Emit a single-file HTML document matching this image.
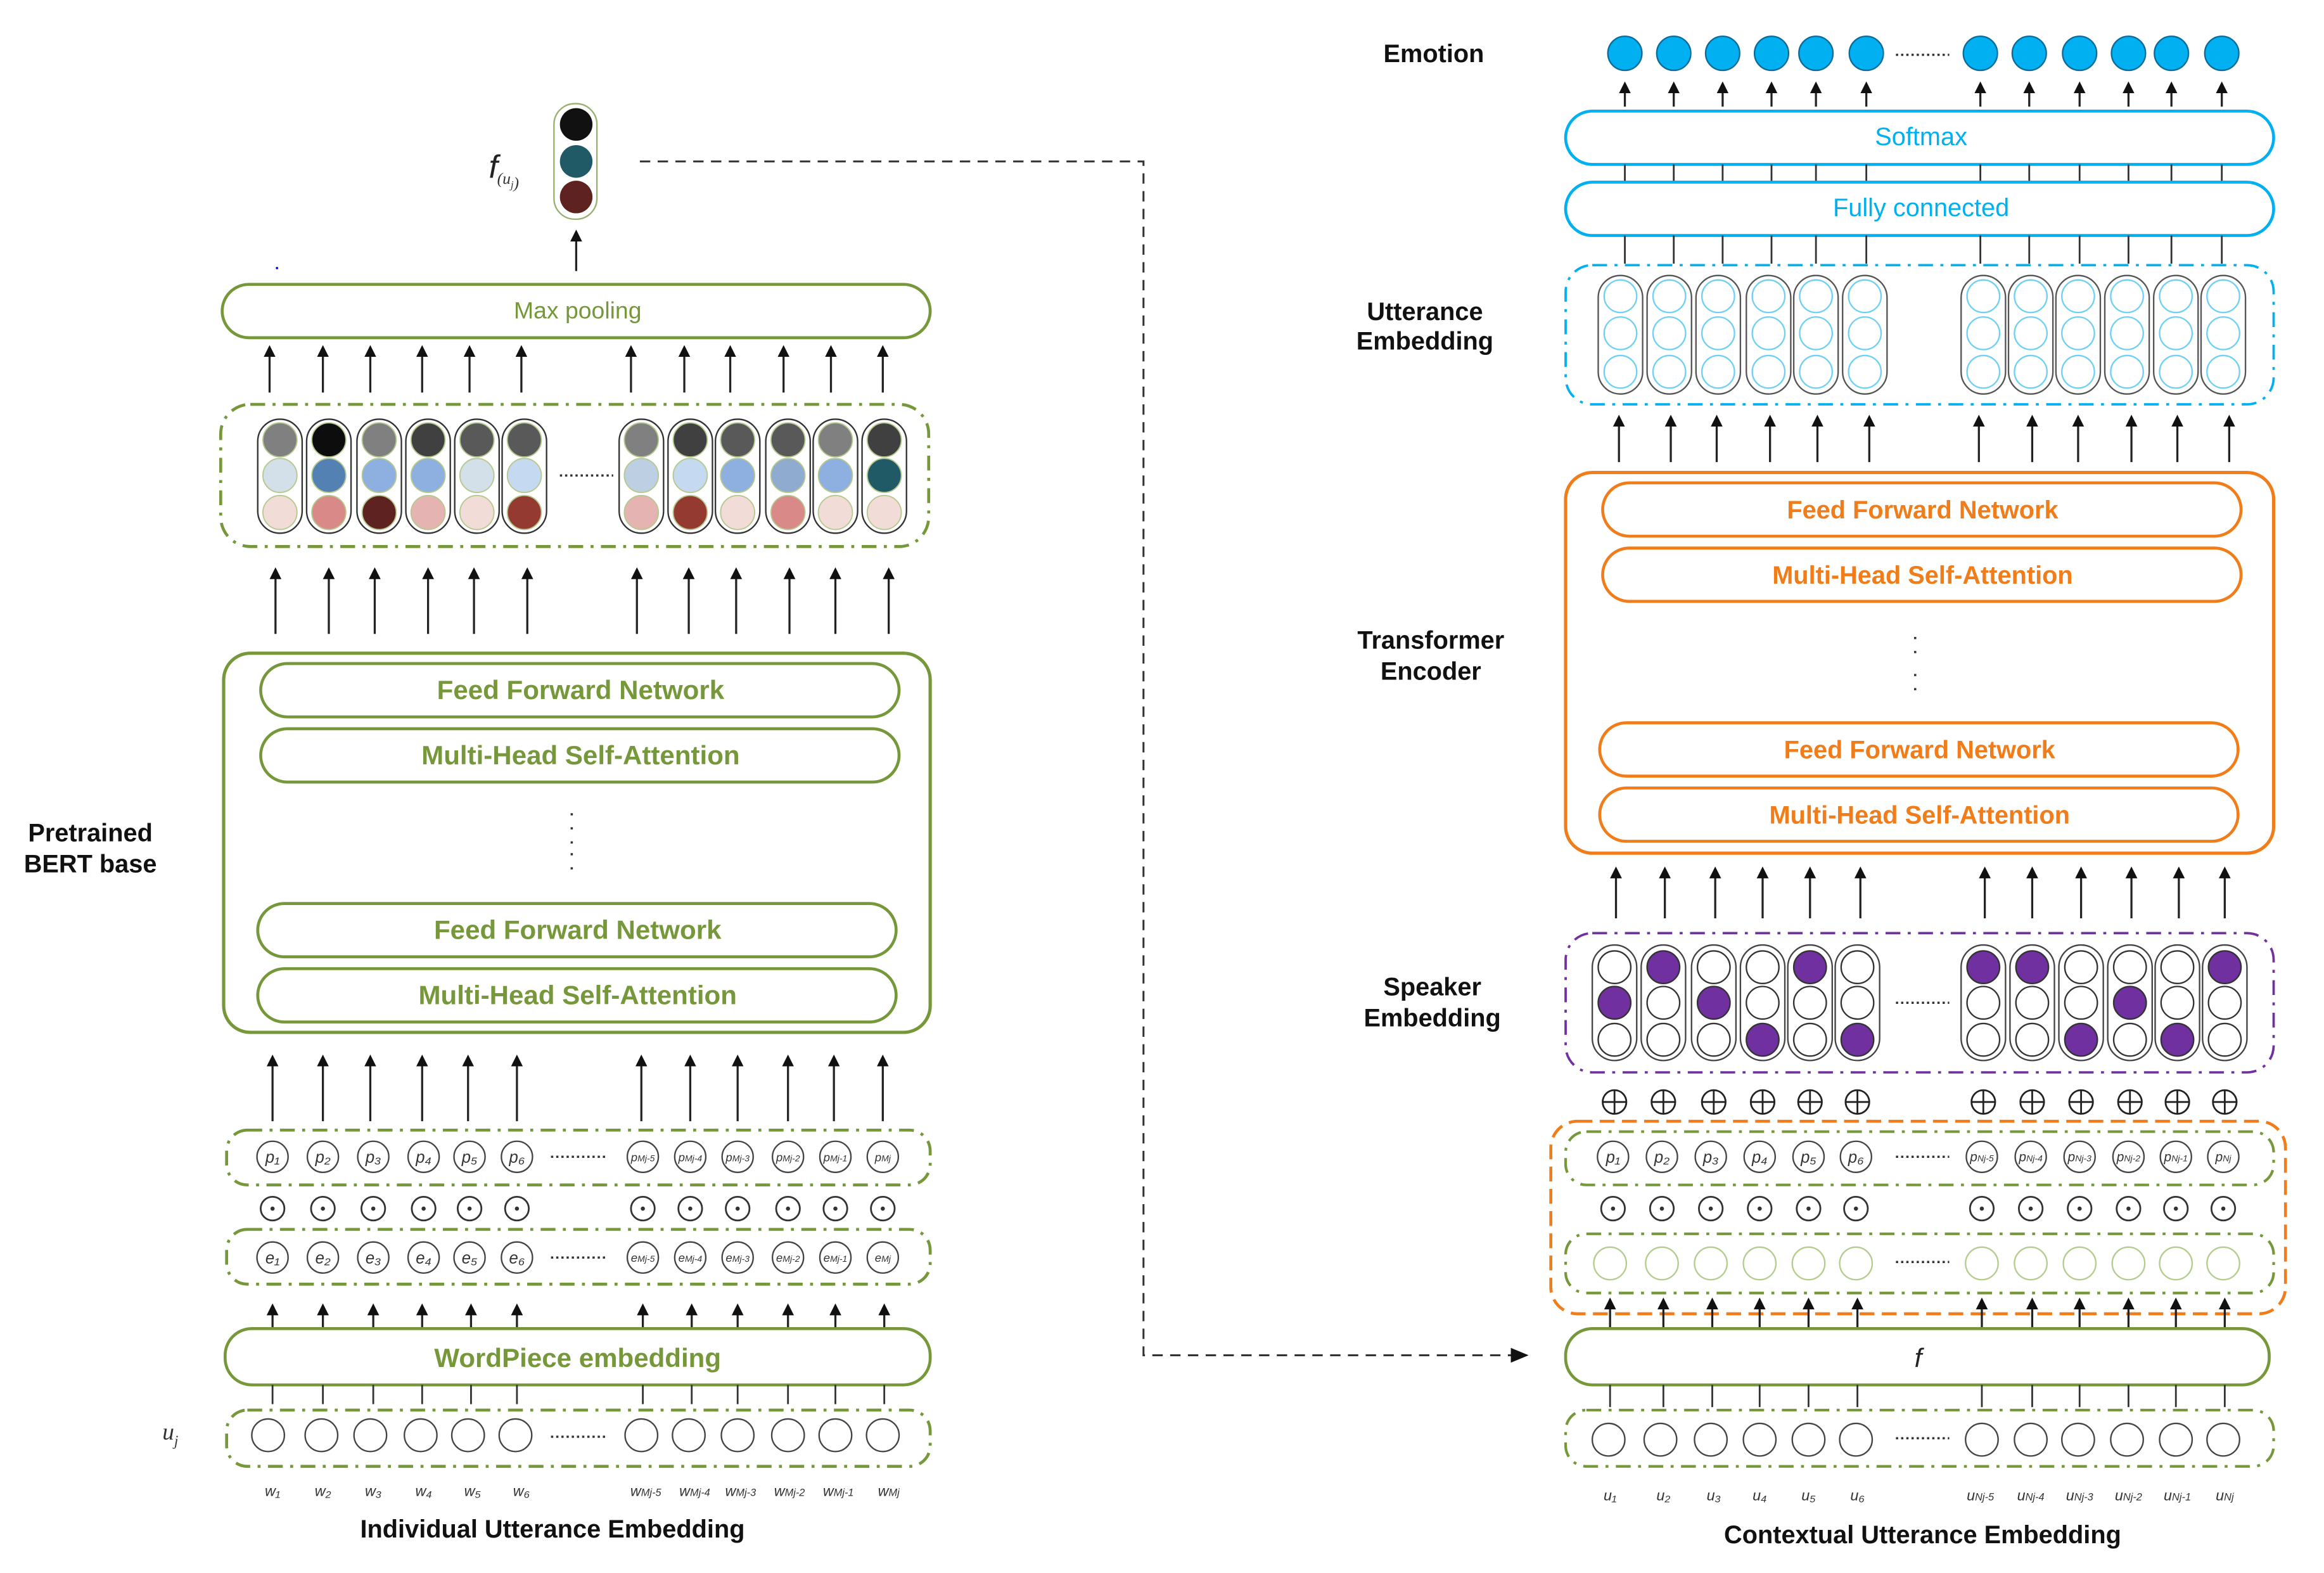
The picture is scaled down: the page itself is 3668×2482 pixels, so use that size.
<!DOCTYPE html>
<html><head><meta charset="utf-8"><style>
html,body{margin:0;padding:0;background:#fff}
svg{display:block}
text{font-family:"Liberation Sans Narrow","Liberation Sans",sans-serif}
.lb{font-weight:bold;font-size:17px;fill:#111;text-anchor:middle}
.g{fill:#76973a;text-anchor:middle;font-weight:bold;font-size:18px}
.o{fill:#f07d1a;text-anchor:middle;font-weight:bold;font-size:17px}
.c{fill:#00b0f0;text-anchor:middle;font-size:17px}
.sm{font-family:"Liberation Serif",serif;font-style:italic;font-size:10px;fill:#333;text-anchor:middle}
</style></head><body>
<svg id="s" width="3668" height="2482" viewBox="0 0 1569 1062" preserveAspectRatio="none" xmlns="http://www.w3.org/2000/svg">
<defs><marker id="ah" markerWidth="8" markerHeight="8" refX="4" refY="4" orient="auto" markerUnits="userSpaceOnUse"><path d="M0,0 L8,4 L0,8 z" fill="#111"/></marker>
<marker id="ah2" markerWidth="12" markerHeight="10" refX="10" refY="5" orient="auto" markerUnits="userSpaceOnUse"><path d="M0,0 L12,5 L0,10 z" fill="#111"/></marker></defs>
<g id="shapes"></g>
<path d="M432,109 H772 V915 H1030" fill="none" stroke="#333" stroke-width="1.3" stroke-dasharray="7,5" marker-end="url(#ah2)"/>
<circle cx="187" cy="181" r="0.8" fill="#00f"/>
<text x="330" y="120" font-family="Liberation Serif" font-style="italic" font-size="22" fill="#222">f</text>
<text x="343" y="124" class="sm" style="font-size:11px">(u<tspan font-size="7" dy="3">j</tspan>)</text>
<text x="390" y="215" style="fill:#76973a;text-anchor:middle;font-size:16px">Max pooling</text>
<text x="392" y="472" class="g">Feed Forward Network</text>
<text x="392" y="516" class="g">Multi-Head Self-Attention</text>
<text x="390" y="634" class="g">Feed Forward Network</text>
<text x="390" y="678" class="g">Multi-Head Self-Attention</text>
<text x="390" y="923" class="g">WordPiece embedding</text>
<text x="61" y="568" class="lb">Pretrained</text>
<text x="61" y="589" class="lb">BERT base</text>
<text x="373" y="1038" class="lb">Individual Utterance Embedding</text>
<text x="115" y="972" class="sm" style="font-size:16px">u<tspan font-size="10" dy="4">j</tspan></text>
<g class="sm">
<text x="184" y="1010">w₁</text><text x="218" y="1010">w₂</text><text x="252" y="1010">w₃</text><text x="286" y="1010">w₄</text><text x="319" y="1010">w₅</text><text x="352" y="1010">w₆</text>
<text x="436" y="1010">w<tspan font-size="7">Mj-5</tspan></text><text x="469" y="1010">w<tspan font-size="7">Mj-4</tspan></text><text x="500" y="1010">w<tspan font-size="7">Mj-3</tspan></text><text x="533" y="1010">w<tspan font-size="7">Mj-2</tspan></text><text x="566" y="1010">w<tspan font-size="7">Mj-1</tspan></text><text x="600" y="1010">w<tspan font-size="7">Mj</tspan></text>
</g>
<g class="sm" style="font-size:11px">
<text x="184" y="785">p₁</text><text x="218" y="785">p₂</text><text x="252" y="785">p₃</text><text x="286" y="785">p₄</text><text x="317" y="785">p₅</text><text x="349" y="785">p₆</text>
<text x="434" y="784" style="font-size:8px">p<tspan font-size="6">Mj-5</tspan></text><text x="466" y="784" style="font-size:8px">p<tspan font-size="6">Mj-4</tspan></text><text x="498" y="784" style="font-size:8px">p<tspan font-size="6">Mj-3</tspan></text><text x="532" y="784" style="font-size:8px">p<tspan font-size="6">Mj-2</tspan></text><text x="564" y="784" style="font-size:8px">p<tspan font-size="6">Mj-1</tspan></text><text x="596" y="784" style="font-size:8px">p<tspan font-size="6">Mj</tspan></text>
<text x="184" y="853">e₁</text><text x="218" y="853">e₂</text><text x="252" y="853">e₃</text><text x="286" y="853">e₄</text><text x="317" y="853">e₅</text><text x="349" y="853">e₆</text>
<text x="434" y="852" style="font-size:8px">e<tspan font-size="6">Mj-5</tspan></text><text x="466" y="852" style="font-size:8px">e<tspan font-size="6">Mj-4</tspan></text><text x="498" y="852" style="font-size:8px">e<tspan font-size="6">Mj-3</tspan></text><text x="532" y="852" style="font-size:8px">e<tspan font-size="6">Mj-2</tspan></text><text x="564" y="852" style="font-size:8px">e<tspan font-size="6">Mj-1</tspan></text><text x="596" y="852" style="font-size:8px">e<tspan font-size="6">Mj</tspan></text>
</g>
<text x="968" y="42" class="lb">Emotion</text>
<text x="1297" y="98" class="c">Softmax</text>
<text x="1297" y="146" class="c">Fully connected</text>
<text x="962" y="216" class="lb">Utterance</text>
<text x="962" y="236" class="lb">Embedding</text>
<text x="1298" y="350" class="o">Feed Forward Network</text>
<text x="1298" y="394" class="o">Multi-Head Self-Attention</text>
<text x="1296" y="512" class="o">Feed Forward Network</text>
<text x="1296" y="556" class="o">Multi-Head Self-Attention</text>
<text x="966" y="438" class="lb">Transformer</text>
<text x="966" y="459" class="lb">Encoder</text>
<text x="967" y="672" class="lb">Speaker</text>
<text x="967" y="693" class="lb">Embedding</text>
<text x="1295" y="923" font-family="Liberation Serif" font-style="italic" font-size="18" fill="#222" text-anchor="middle">f</text>
<text x="1298" y="1042" class="lb">Contextual Utterance Embedding</text>
<g class="sm" style="font-size:11px">
<text x="1089" y="785">p₁</text><text x="1122" y="785">p₂</text><text x="1155" y="785">p₃</text><text x="1188" y="785">p₄</text><text x="1221" y="785">p₅</text><text x="1253" y="785">p₆</text>
<text x="1338" y="784" style="font-size:9px">p<tspan font-size="6">Nj-5</tspan></text><text x="1371" y="784" style="font-size:9px">p<tspan font-size="6">Nj-4</tspan></text><text x="1404" y="784" style="font-size:9px">p<tspan font-size="6">Nj-3</tspan></text><text x="1437" y="784" style="font-size:9px">p<tspan font-size="6">Nj-2</tspan></text><text x="1469" y="784" style="font-size:9px">p<tspan font-size="6">Nj-1</tspan></text><text x="1501" y="784" style="font-size:9px">p<tspan font-size="6">Nj</tspan></text>
</g>
<g class="sm">
<text x="1087" y="1013">u₁</text><text x="1123" y="1013">u₂</text><text x="1157" y="1013">u₃</text><text x="1188" y="1013">u₄</text><text x="1221" y="1013">u₅</text><text x="1254" y="1013">u₆</text>
<text x="1337" y="1013">u<tspan font-size="7">Nj-5</tspan></text><text x="1371" y="1013">u<tspan font-size="7">Nj-4</tspan></text><text x="1404" y="1013">u<tspan font-size="7">Nj-3</tspan></text><text x="1437" y="1013">u<tspan font-size="7">Nj-2</tspan></text><text x="1470" y="1013">u<tspan font-size="7">Nj-1</tspan></text><text x="1502" y="1013">u<tspan font-size="7">Nj</tspan></text>
</g>
</svg>
<script>
var NS="http://www.w3.org/2000/svg",G=document.getElementById("shapes");
function el(t,a){var e=document.createElementNS(NS,t);for(var k in a)e.setAttribute(k,a[k]);G.appendChild(e);return e;}
function rect(x1,y1,x2,y2,st,sw,da,rx){el("rect",{x:x1,y:y1,width:x2-x1,height:y2-y1,rx:rx||18,fill:"none",stroke:st,"stroke-width":sw||2,"stroke-dasharray":da||""});}
function arrows(xs,y1,y2){xs.forEach(function(x){el("line",{x1:x,y1:y1,x2:x,y2:y2+4,stroke:"#222","stroke-width":1.4,"marker-end":"url(#ah)"});});}
function ticks(xs,y1,y2){xs.forEach(function(x){el("line",{x1:x,y1:y1,x2:x,y2:y2,stroke:"#333","stroke-width":1.2});});}
function circ(x,y,r,f,s,sw){el("circle",{cx:x,cy:y,r:r,fill:f,stroke:s,"stroke-width":sw||1});}
function dots(x1,x2,y){el("line",{x1:x1,y1:y,x2:x2,y2:y,stroke:"#333","stroke-width":1.5,"stroke-dasharray":"1.5,2"});}
function vdots(x,y1,y2){el("line",{x1:x,y1:y1,x2:x,y2:y2,stroke:"#333","stroke-width":1.5,"stroke-dasharray":"1.5,8"});}
function odot(x,y){circ(x,y,8,"#fff","#333",1.2);circ(x,y,1.4,"#333","none");}
function oplus(x,y){circ(x,y,8,"#fff","#222",1.2);el("path",{d:"M"+(x-8)+","+y+"H"+(x+8)+"M"+x+","+(y-8)+"V"+(y+8),stroke:"#222","stroke-width":1.2});}
var GR="#76973a",DD="10,5,2,5";
el("rect",{x:374,y:70,width:29,height:78,rx:14,fill:"#fff",stroke:"#9ab070","stroke-width":1});
circ(389,84,11,"#111","none");circ(389,109,11,"#1f5a66","none");circ(389,133,11,"#5e2220","none");
arrows([389],183,155);
rect(150,192,628,228,GR,2);
arrows([182,218,250,285,317,352,426,462,493,529,561,596],265,233);
rect(149,273,627,369,GR,2,DD,20);
var LX=[189,222,256,289,322,354,433,466,498,532,564,597];
var LC=[["#808080","#d3dfe9","#f2dcd8"],["#0d0d0d","#5381b3","#d98a88"],["#808080","#8db0e0","#5e2220"],["#404040","#8db0e0","#e5b4b2"],["#595959","#d3dfe9","#f2dcd8"],["#595959","#c5d9f0","#943a31"],["#808080","#bccfe3","#e5b4b2"],["#404040","#c5d9f0","#943a31"],["#595959","#8db0e0","#f2dcd8"],["#595959","#8fabd0","#d98a88"],["#808080","#8db0e0","#f2dcd8"],["#404040","#1f5a66","#f2dcd8"]];
LX.forEach(function(x,i){el("rect",{x:x-15,y:283,width:30,height:77,rx:15,fill:"#fff",stroke:"#333","stroke-width":1});
[297,321,346].forEach(function(y,j){circ(x,y,11.5,LC[i][j],"#b5c98e",0.8);});});
dots(378,414,321);
arrows([186,222,253,289,320,356,430,465,497,533,564,600],428,383);
rect(151,441,628,697,GR,2.2);
rect(176,448,607,484,GR,2);rect(176,492,607,528,GR,2);
rect(174,610,605,646,GR,2);rect(174,654,605,690,GR,2);
vdots(386,549,570);vdots(386,576,592);
arrows([184,218,250,285,316,349,433,466,498,532,563,596],757,712);
var LX2=[184,218,252,286,317,349,434,466,498,532,564,596];
rect(153,763,628,800,GR,2,DD,14);
LX2.forEach(function(x){circ(x,781,10.5,"#fff","#444",1);});
dots(372,410,781);
LX2.forEach(function(x){odot(x,816);});
rect(153,830,628,867,GR,2,DD,14);
LX2.forEach(function(x){circ(x,849,10.5,"#fff","#444",1);});
dots(372,410,849);
arrows([184,218,252,285,318,349,434,467,498,532,564,597],897,880);
rect(152,897,628,935,GR,2);
ticks([184,218,252,285,318,349,434,467,498,532,564,597],935,948);
rect(153,952,628,990,GR,2,DD,14);
[181,217,250,284,316,348,433,465,498,532,564,596].forEach(function(x){circ(x,969,11,"#fff","#444",1);});
dots(372,410,970);
var BX=[1097,1130,1163,1196,1226,1260,1337,1370,1404,1437,1466,1500];
BX.forEach(function(x){circ(x,36,11.5,"#00b0f0","#0a6b9a",1);});
dots(1280,1316,37);
arrows(BX,72,55);
rect(1057,75,1535,111,"#00b0f0",2);
ticks(BX,111,123);
rect(1057,123,1535,159,"#00b0f0",2);
ticks(BX,159,178);
rect(1057,179,1535,273,"#00b0f0",1.6,DD,18);
[1094,1127,1160,1194,1226,1259,1339,1371,1403,1436,1469,1501].forEach(function(x){el("rect",{x:x-15,y:186,width:30,height:80,rx:15,fill:"#fff",stroke:"#555","stroke-width":1});
[200,225,251].forEach(function(y){circ(x,y,11,"#fff","#6fd0f5",1);});});
arrows([1093,1128,1159,1195,1227,1262,1336,1372,1403,1439,1470,1505],312,280);
var OR="#f07d1a";
rect(1057,319,1535,576,OR,2.2);
rect(1082,326,1513,362,OR,2);rect(1082,370,1513,406,OR,2);
rect(1080,488,1511,524,OR,2);rect(1080,532,1511,568,OR,2);
vdots(1293,430,444);vdots(1293,455,470);
arrows([1091,1124,1158,1190,1222,1256,1340,1372,1405,1439,1471,1502],620,585);
rect(1057,630,1535,724,"#7030a0",1.6,DD,18);
var SX=[1090,1123,1157,1190,1222,1254,1339,1372,1405,1438,1470,1502],SP=[1,0,1,2,0,2,0,0,2,1,2,0];
SX.forEach(function(x,i){el("rect",{x:x-15,y:638,width:30,height:78,rx:15,fill:"#fff",stroke:"#444","stroke-width":1});
[653,677,702].forEach(function(y,j){circ(x,y,11,j==SP[i]?"#7030a0":"#fff","#333",1);});});
dots(1280,1316,677);
SX.forEach(function(x){oplus(x,744);});
rect(1047,757,1543,887,OR,2,"10,5",18);
var RX=[1089,1122,1155,1188,1221,1253,1338,1371,1404,1437,1469,1501];
rect(1057,764,1535,800,GR,1.8,DD,14);
RX.forEach(function(x){circ(x,781,10.5,"#fff","#444",1);});
dots(1280,1316,781);
RX.forEach(function(x){odot(x,816);});
rect(1057,833,1535,873,GR,1.8,DD,14);
[1087,1122,1155,1188,1221,1253,1338,1371,1404,1437,1469,1501].forEach(function(x){circ(x,853,11,"#fff","#b5cc8e",1);});
dots(1280,1316,852);
arrows([1087,1123,1156,1188,1221,1254,1338,1372,1404,1437,1469,1502],897,876);
rect(1057,897,1532,935,GR,2);
ticks([1087,1123,1156,1188,1221,1254,1338,1372,1404,1437,1469,1502],935,950);
rect(1057,952,1535,990,GR,1.8,DD,14);
[1086,1121,1155,1188,1221,1253,1338,1371,1403,1436,1469,1501].forEach(function(x){circ(x,972,11,"#fff","#444",1);});
dots(1280,1316,971);
</script>
</body></html>
